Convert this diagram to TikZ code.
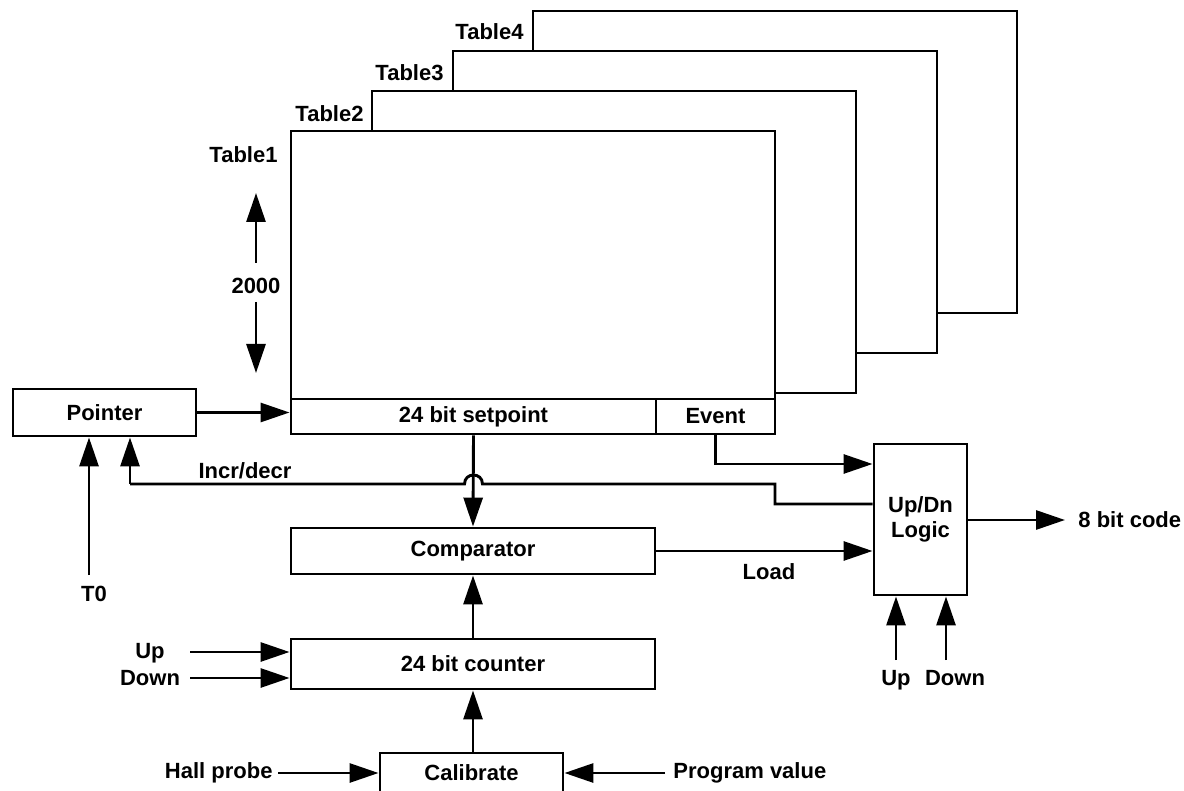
\documentclass[tikz,border=0pt]{standalone}
\usepackage{fontspec}
\setmainfont{Liberation Sans}
\usetikzlibrary{arrows.meta}
\begin{document}
\begin{tikzpicture}[x=1pt,y=-1pt,
  line width=2.9pt,
  font=\fontsize{22}{25}\selectfont\bfseries,
  box/.style={draw,rectangle,inner sep=0pt,line width=2.9pt},
  tbl/.style={draw,fill=white,line width=2.8pt},
  lbl/.style={inner sep=0pt},
  arr/.style={-{Triangle[length=29pt,width=19pt]}},
]
\useasboundingbox (0,0) rectangle (1184,791);
% table stack
\draw[tbl] (533,11) rectangle (1017,313);
\draw[tbl] (453,51) rectangle (937,353);
\draw[tbl] (372,91) rectangle (856,393);
\draw[tbl] (291,131) rectangle (775,399);
\node[lbl,anchor=east] (t4) at (525,32) {Table4};
\node[lbl,anchor=east] (t3) at (445,73) {Table3};
\node[lbl,anchor=east] (t2) at (365,114) {Table2};
\node[lbl,anchor=east] (t1) at (279,155) {Table1};
% 2000 arrows
\node[lbl] (n2000) at (256,286) {2000};
\coordinate (upt) at (256,193);
\coordinate (dnt) at (256,373);
\draw[arr] (n2000.north |- 0,263) -- (upt);
\draw[arr] (n2000.south |- 0,302) -- (dnt);
% boxes
\node[box,minimum width=365pt,minimum height=35pt] (setpoint) at (473.5,416.5) {24 bit setpoint};
\node[box,minimum width=119pt,minimum height=35pt] (event) at (715.5,416.5) {Event};
\node[box,minimum width=183pt,minimum height=47pt] (pointer) at (104.5,412.5) {Pointer};
\node[box,minimum width=364pt,minimum height=46pt] (comparator) at (473,551) {Comparator};
\node[box,minimum width=364pt,minimum height=50pt] (counter) at (473,664) {24 bit counter};
\node[box,minimum width=183pt,minimum height=44pt] (calibrate) at (471.5,775) {};
\node[lbl] (caltext) at (471.5,773) {Calibrate};
\node[box,minimum width=93pt,minimum height=151pt,align=center] (updn) at (920.5,519.5) {Up/Dn\\Logic};
% labels
\node[lbl] (incr) at (245,471) {Incr/decr};
\node[lbl] (t0) at (94,594) {T0};
\node[lbl] (load) at (769,572) {Load};
\node[lbl,anchor=base] (cup) at (150,658) {Up};
\node[lbl,anchor=base] (cdown) at (150,685) {Down};
\node[lbl,anchor=base] (lup) at (896,685) {Up};
\node[lbl,anchor=base] (ldown) at (955,685) {Down};
\node[lbl,anchor=west] (code) at (1077,520) {8 bit code};
\node[lbl,anchor=east] (hall) at (274,773) {Hall probe};
\node[lbl,anchor=west] (prog) at (672,773) {Program value};
% connectors
\draw[arr] (pointer.east) -- (pointer.east -| setpoint.west);
\draw[arr] (setpoint.south) -- (comparator.north);
\draw[arr] (counter.north) -- (comparator.south);
\draw[arr] (counter.south |- calibrate.north) -- (counter.south);
\draw[arr] (comparator.east) -- (comparator.east -| updn.west);
\draw[arr] (event.south) |- (updn.west |- 0,464);
\draw (updn.west |- 0,504) -- (775,504) -- (775,484)
  -- (482.5,484) .. controls (482.5,472) and (464.5,472) .. (464.5,484)
  -- (130,484);
\draw[arr] (130,484) -- (pointer.south -| 130,0);
\draw[arr] (89,575) -- (pointer.south -| 89,0);
\draw[arr] (updn.east |- 0,520) -- (1065,520);
\draw[arr] (896,660) -- (updn.south -| 896,0);
\draw[arr] (946,660) -- (updn.south -| 946,0);
\draw[arr] (190,652) -- (counter.west |- 0,652);
\draw[arr] (190,678) -- (counter.west |- 0,678);
\draw[arr] (hall.east) ++(4,0) -- (calibrate.west |- 0,773);
\draw[arr] (prog.west) ++(-7,0) -- (calibrate.east |- 0,773);
\end{tikzpicture}
\end{document}
